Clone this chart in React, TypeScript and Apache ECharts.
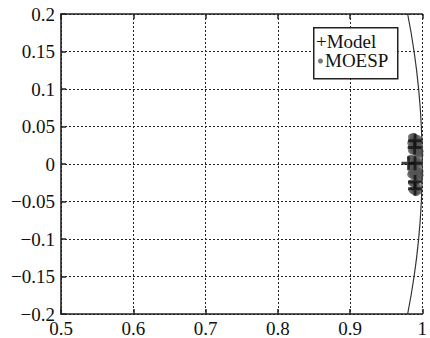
import React, { useEffect, useRef } from "react";
import * as echarts from "echarts";

// Unit circle reference (x = real, y = imag), read at the y gridlines
const circleX = [0.9798, 0.9887, 0.995, 0.99875, 1.0, 0.99875, 0.995, 0.9887, 0.9798];
const circleY = [0.2, 0.15, 0.1, 0.05, 0.0, -0.05, -0.1, -0.15, -0.2];

// Model poles (+)
const modelX = [0.99, 0.9895, 0.981, 0.99, 0.99, 0.99];
const modelY = [0.031, 0.022, 0.001, 0.001, -0.024, -0.033];

// MOESP poles (gray dots)
const moespX = [
  0.985, 0.988, 0.991, 0.994, 0.996, 0.984, 0.987, 0.99, 0.993, 0.996,
  0.985, 0.988, 0.991, 0.994, 0.997, 0.984, 0.987, 0.99, 0.993, 0.996,
  0.985, 0.988, 0.991, 0.994, 0.997, 0.984, 0.987, 0.99, 0.993, 0.996,
  0.985, 0.988, 0.991, 0.994, 0.986, 0.989, 0.992, 0.995,
  0.986, 0.989, 0.992, 0.995, 0.985, 0.988, 0.991, 0.994, 0.997,
  0.986, 0.989, 0.992, 0.995, 0.985, 0.988, 0.991, 0.994, 0.997,
];
const moespY = [
  0.036, 0.037, 0.035, 0.034, 0.03, 0.028, 0.027, 0.026, 0.025, 0.022,
  0.018, 0.017, 0.015, 0.014, 0.012, 0.008, 0.007, 0.006, 0.004, 0.003,
  -0.004, -0.006, -0.007, -0.009, -0.01, -0.014, -0.016, -0.017, -0.019, -0.02,
  -0.025, -0.027, -0.028, -0.03, -0.035, -0.037, -0.038, -0.036,
  0.032, 0.031, 0.03, 0.029, 0.023, 0.022, 0.02, 0.019, 0.017,
  -0.001, 0.0, 0.001, -0.002, -0.011, -0.012, -0.013, -0.014, -0.015,
];

const xMin = 0.5, xMax = 1.0, xStep = 0.1;
const yMin = -0.2, yMax = 0.2, yStep = 0.05;

const legendLabels = ["Model", "MOESP"];

const FONT = "Liberation Serif";
const fmt = (v: number) => String(Math.round(v * 1000) / 1000).replace("-", "\u2212");

export default function App() {
  const ref = useRef<HTMLDivElement>(null);
  useEffect(() => {
    if (!ref.current) return;
    const chart = echarts.init(ref.current, undefined, { renderer: "svg" });
    const pair = (xs: number[], ys: number[]) => xs.map((x, i) => [x, ys[i]]);
    const splitStyle = { show: true, lineStyle: { color: "#222", type: [2, 2] as any, width: 1 } };
    chart.setOption({
      animation: false,
      backgroundColor: "#fff",
      textStyle: { fontFamily: FONT },
      grid: { left: 61, top: 14, right: -1, bottom: 22, containLabel: false },
      xAxis: [
        {
          type: "value", min: xMin, max: xMax, interval: xStep,
          axisLine: { show: true, onZero: false, lineStyle: { color: "#222", width: 1.6 } },
          axisTick: { show: true, inside: true, length: 5, lineStyle: { color: "#222", width: 1.5 } },
          axisLabel: { color: "#111", fontSize: 19, fontFamily: FONT, margin: 5, formatter: fmt },
          splitLine: splitStyle,
        },
        {
          type: "value", position: "top", min: xMin, max: xMax, interval: xStep,
          axisLine: { show: true, onZero: false, lineStyle: { color: "#222", width: 1.6 } },
          axisTick: { show: true, inside: true, length: 5, lineStyle: { color: "#222", width: 1.5 } },
          axisLabel: { show: false },
          splitLine: { show: false },
        },
      ],
      yAxis: {
        type: "value", min: yMin, max: yMax, interval: yStep,
        axisLine: { show: true, onZero: false, lineStyle: { color: "#222", width: 1.6 } },
        axisTick: { show: true, inside: true, length: 5, lineStyle: { color: "#222", width: 1.5 } },
        axisLabel: { color: "#111", fontSize: 19, fontFamily: FONT, margin: 6, formatter: fmt },
        splitLine: splitStyle,
      },
      series: [
        {
          type: "line", name: "circle", data: pair(circleX, circleY), smooth: true,
          showSymbol: false, symbol: "none", lineStyle: { color: "#333", width: 1.2 }, clip: true,
        },
        {
          type: "scatter", name: legendLabels[1], data: pair(moespX, moespY),
          symbol: "circle", symbolSize: 7, itemStyle: { color: "#555" },
        },
        {
          type: "scatter", name: legendLabels[0], data: pair(modelX, modelY),
          symbol: "path://M4,0h2v4h4v2h-4v4h-2v-4h-4v-2h4z", symbolSize: 14,
          itemStyle: { color: "#111" },
        },
      ],
      graphic: [
        {
          type: "rect", left: 313, top: 27, z: 100,
          shape: { width: 84, height: 51 },
          style: { fill: "#fff", stroke: "#222", lineWidth: 1.5 },
        },
        {
          type: "text", left: 316, top: 32, z: 101,
          style: { text: "+" + legendLabels[0], fontSize: 19, fontFamily: FONT, fill: "#111" },
        },
        {
          type: "circle", z: 101, shape: { cx: 320.5, cy: 61, r: 2.5 },
          style: { fill: "#777" },
        },
        {
          type: "text", left: 325, top: 51, z: 101,
          style: { text: legendLabels[1], fontSize: 19, fontFamily: FONT, fill: "#111" },
        },
      ],
    });
    return () => chart.dispose();
  }, []);
  return (
    <div
      ref={ref}
      style={{ position: "absolute", left: 0, top: 0, width: 430, height: 338, overflow: "hidden" }}
    />
  );
}
